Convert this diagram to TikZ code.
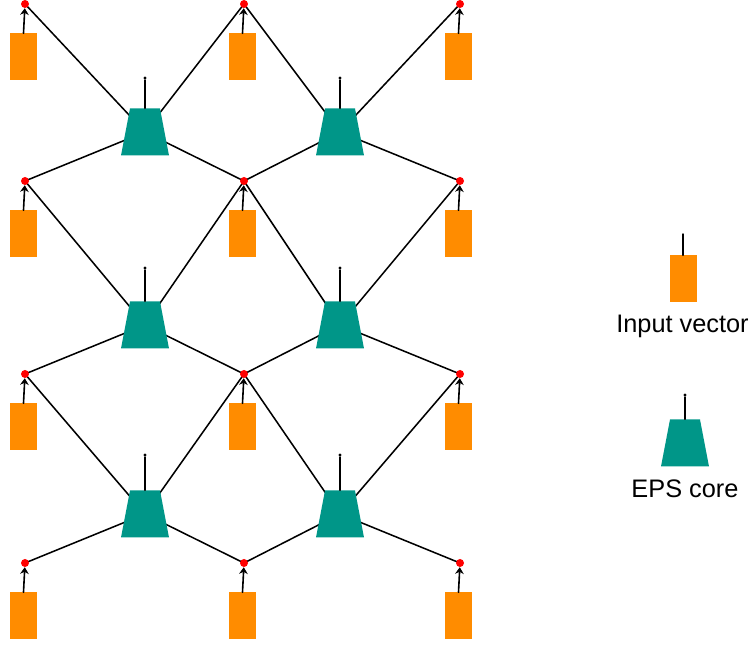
\documentclass[tikz,border=0pt]{standalone}
\usepackage{fontspec}
\setmainfont{Liberation Sans}
\usetikzlibrary{arrows.meta,backgrounds}
\definecolor{epsorange}{HTML}{FF8C00}
\definecolor{epsteal}{HTML}{009688}
\tikzset{
  every picture/.append style={line cap=round,line join=round},
  eps dot/.style={circle,fill=red,inner sep=0pt,minimum size=6pt},
  eps input/.style={rectangle,fill=epsorange,inner sep=0pt,minimum width=20.25pt,minimum height=35.25pt},
  eps core/.style={rectangle,inner sep=0pt,minimum width=36pt,minimum height=35.25pt,
    path picture={\fill[epsteal] (path picture bounding box.south west)
      -- (path picture bounding box.south east)
      -- ([xshift=-6.75pt]path picture bounding box.north east)
      -- ([xshift=6.75pt]path picture bounding box.north west) -- cycle;}},
  eps link/.style={line width=1.15pt},
  eps arrow/.style={line width=1.2pt,-{Stealth[length=5pt,width=6.5pt]}},
  eps stem/.style={line width=1.1pt},
  eps tip/.style={circle,fill=black,inner sep=0pt,minimum size=2.6pt},
  eps label/.style={font=\fontsize{19pt}{23pt}\selectfont,anchor=base}
}

\begin{document}
\begin{tikzpicture}[x=0.75pt,y=-0.75pt]
  \useasboundingbox (0,0) rectangle (751,648);
  % joints and their input vectors
  \foreach \r/\y in {0/4,1/181,2/374,3/563}
    \foreach \c/\x in {0/25,1/244,2/460}{
      \node[eps dot] (d\r\c) at (\x,\y) {};
      \node[eps input] (v\r\c) at (\x-1.5,\y+53) {};
      \draw[eps arrow] (v\r\c.north) -- (d\r\c);
    }
  % cores
  \foreach \r/\y/\t in {0/132/78,1/325/268,2/514/455}
    \foreach \c/\x in {0/145,1/340}{
      \node[eps core] (k\r\c) at (\x,\y) {};
      \node[eps tip] (t\r\c) at (\x,\t) {};
      \draw[eps stem] (k\r\c.north) -- (t\r\c);
    }
  \begin{scope}[on background layer]
    \foreach \r in {0,1,2}
      \foreach \c in {0,1}{
        \pgfmathtruncatemacro\rr{\r+1}
        \pgfmathtruncatemacro\cc{\c+1}
        \draw[eps link] (k\r\c.center) -- (d\r\c.center)
          (k\r\c.center) -- (d\r\cc.center)
          (k\r\c.center) -- (d\rr\c.center)
          (k\r\c.center) -- (d\rr\cc.center);
      }
  \end{scope}
  % legend
  \node[eps input] (vkey) at (683,279) {};
  \coordinate (vkeytop) at (683,234);
  \draw[eps stem] (vkey.north) -- (vkeytop);
  \node[eps label] (vkeytext) at (682.5,333) {Input vector};
  \node[eps core] (kkey) at (685,443) {};
  \node[eps tip] (tkey) at (685,395) {};
  \draw[eps stem] (kkey.north) -- (tkey);
  \node[eps label] (kkeytext) at (685,498) {EPS core};
\end{tikzpicture}
\end{document}
